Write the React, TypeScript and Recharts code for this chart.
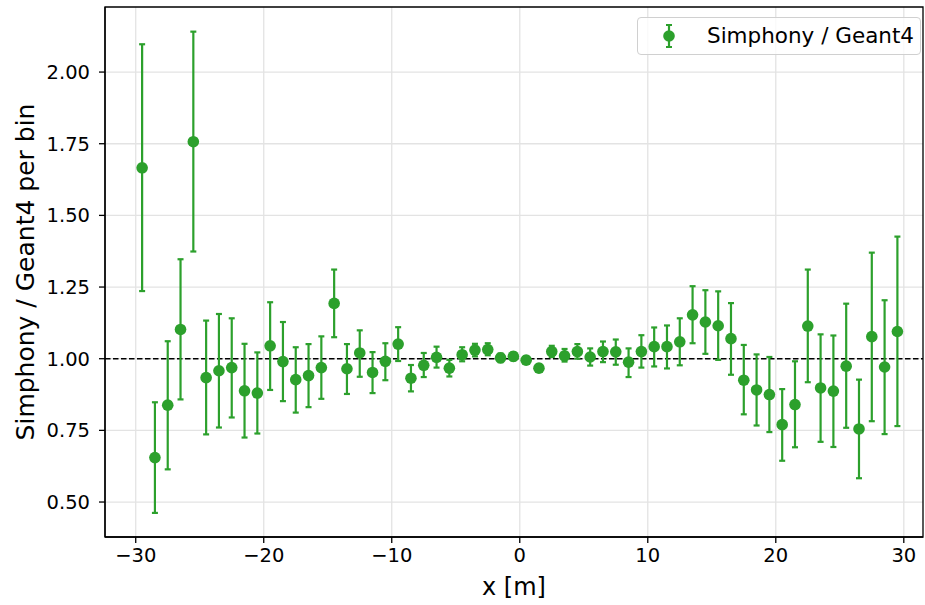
import React from 'react';
import {
  ScatterChart, Scatter, XAxis, YAxis, CartesianGrid, ErrorBar, ReferenceLine, ReferenceArea, Label,
} from 'recharts';

const binCenters = [
  -29.5, -28.5, -27.5, -26.5, -25.5, -24.5, -23.5, -22.5, -21.5, -20.5,
  -19.5, -18.5, -17.5, -16.5, -15.5, -14.5, -13.5, -12.5, -11.5, -10.5,
  -9.5, -8.5, -7.5, -6.5, -5.5, -4.5, -3.5, -2.5, -1.5, -0.5,
  0.5, 1.5, 2.5, 3.5, 4.5, 5.5, 6.5, 7.5, 8.5, 9.5,
  10.5, 11.5, 12.5, 13.5, 14.5, 15.5, 16.5, 17.5, 18.5, 19.5,
  20.5, 21.5, 22.5, 23.5, 24.5, 25.5, 26.5, 27.5, 28.5, 29.5,
];

const ratio = [
  1.666, 0.655, 0.838, 1.102, 1.757, 0.934, 0.958, 0.969, 0.888, 0.880,
  1.045, 0.990, 0.927, 0.941, 0.969, 1.193, 0.965, 1.020, 0.952, 0.991,
  1.051, 0.932, 0.977, 1.005, 0.967, 1.014, 1.030, 1.032, 1.003, 1.008,
  0.995, 0.967, 1.025, 1.010, 1.025, 1.006, 1.025, 1.024, 0.988, 1.025,
  1.042, 1.042, 1.059, 1.153, 1.128, 1.115, 1.070, 0.925, 0.891, 0.875,
  0.770, 0.840, 1.114, 0.898, 0.887, 0.974, 0.755, 1.077, 0.971, 1.095,
];

const upperBound = [
  2.097, 0.848, 1.061, 1.347, 2.141, 1.133, 1.156, 1.141, 1.052, 1.022,
  1.197, 1.128, 1.040, 1.051, 1.078, 1.311, 1.051, 1.099, 1.023, 1.054,
  1.110, 0.978, 1.020, 1.042, 0.996, 1.040, 1.052, 1.054, 1.018, 1.022,
  1.008, 0.980, 1.045, 1.034, 1.051, 1.036, 1.060, 1.067, 1.036, 1.082,
  1.109, 1.116, 1.141, 1.253, 1.239, 1.235, 1.194, 1.048, 1.015, 1.006,
  0.894, 0.991, 1.311, 1.085, 1.081, 1.192, 0.927, 1.370, 1.204, 1.426,
];

const lowerBound = [
  1.236, 0.462, 0.614, 0.858, 1.374, 0.736, 0.760, 0.795, 0.725, 0.739,
  0.891, 0.852, 0.812, 0.831, 0.860, 1.075, 0.877, 0.937, 0.880, 0.925,
  0.992, 0.886, 0.936, 0.969, 0.938, 0.991, 1.008, 1.012, 0.988, 0.994,
  0.982, 0.954, 1.006, 0.990, 1.000, 0.976, 0.988, 0.979, 0.936, 0.969,
  0.973, 0.966, 0.977, 1.054, 1.017, 0.996, 0.944, 0.806, 0.767, 0.744,
  0.644, 0.691, 0.918, 0.710, 0.692, 0.759, 0.583, 0.782, 0.737, 0.765,
];

const xTicks = [-30, -20, -10, 0, 10, 20, 30];
const yTicks = [0.5, 0.75, 1.0, 1.25, 1.5, 1.75, 2.0];
const xDomain: [number, number] = [-32.4, 31.5];
const yDomain: [number, number] = [0.378, 2.227];

const seriesName = 'Simphony / Geant4';
const xLabel = 'x [m]';
const yLabel = 'Simphony / Geant4 per bin';

const GREEN = '#2ca02c';
const FONT = '"DejaVu Sans", sans-serif';

const data = binCenters.map((x, i) => ({
  x,
  y: ratio[i],
  err: [ratio[i] - lowerBound[i], upperBound[i] - ratio[i]],
}));

const fmtX = (v: number) => (v < 0 ? '\u2212' + Math.abs(v) : String(v));
const fmtY = (v: number) => v.toFixed(2);

const Dot = (props: any) => (
  <circle cx={props.cx} cy={props.cy} r={5.8} fill={GREEN} />
);

export default function App() {
  return (
    <div style={{ position: 'absolute', left: 0, top: 0, width: 925, height: 605, background: '#fff' }}>
      <ScatterChart
        width={925}
        height={605}
        margin={{ top: 7, right: 2, bottom: 0, left: 0 }}
        style={{ fontFamily: FONT }}
      >
        <CartesianGrid stroke="#e3e3e3" strokeWidth={1.3} horizontalValues={yTicks} verticalValues={xTicks} />
        <XAxis
          type="number"
          dataKey="x"
          domain={xDomain}
          ticks={xTicks}
          allowDataOverflow
          height={68}
          tickFormatter={fmtX}
          tickSize={6}
          tickMargin={5}
          tick={{ fill: '#000', fontSize: 19.5, fontFamily: FONT }}
          stroke="#000"
          tickLine={{ stroke: '#000', strokeWidth: 1.3 }}
          axisLine={{ stroke: '#000', strokeWidth: 1.3 }}
        >
          <Label
            content={(p: any) => (
              <text
                x={p.viewBox.x + p.viewBox.width / 2}
                y={p.viewBox.y + 58}
                textAnchor="middle"
                fontSize={24}
                fontFamily={FONT}
                fill="#000"
              >
                {xLabel}
              </text>
            )}
          />
        </XAxis>
        <YAxis
          type="number"
          dataKey="y"
          domain={yDomain}
          ticks={yTicks}
          allowDataOverflow
          width={105}
          tickFormatter={fmtY}
          tickSize={6}
          tickMargin={9}
          tick={{ fill: '#000', fontSize: 19.5, fontFamily: FONT }}
          stroke="#000"
          tickLine={{ stroke: '#000', strokeWidth: 1.3 }}
          axisLine={{ stroke: '#000', strokeWidth: 1.3 }}
        >
          <Label
            content={(p: any) => {
              const cx = p.viewBox.x + 25;
              const cy = p.viewBox.y + p.viewBox.height / 2;
              return (
                <text
                  x={cx}
                  y={cy}
                  transform={`rotate(-90 ${cx} ${cy})`}
                  textAnchor="middle"
                  dominantBaseline="central"
                  fontSize={25}
                  fontFamily={FONT}
                  fill="#000"
                >
                  {yLabel}
                </text>
              );
            }}
          />
        </YAxis>
        <ReferenceArea
          x1={xDomain[0]}
          x2={xDomain[1]}
          y1={yDomain[0]}
          y2={yDomain[1]}
          fill="none"
          stroke="#000"
          strokeWidth={1.3}
          ifOverflow="visible"
        />
        <ReferenceLine y={1} stroke="#000" strokeWidth={1.5} strokeDasharray="5.5 2.5" />
        <Scatter data={data} fill={GREEN} shape={Dot} isAnimationActive={false}>
          <ErrorBar dataKey="err" direction="y" width={3} stroke={GREEN} strokeWidth={2.2} />
        </Scatter>
      </ScatterChart>
      <div
        style={{
          position: 'absolute',
          left: 637,
          top: 17,
          width: 284,
          height: 38,
          border: '1px solid #d0d0d0',
          borderRadius: 4,
          background: 'rgba(255,255,255,0.8)',
          boxSizing: 'border-box',
          fontFamily: FONT,
          fontSize: 21.5,
        }}
      >
        <svg width={40} height={36} style={{ position: 'absolute', left: 20, top: 0 }}>
          <line x1={11} y1={7} x2={11} y2={29} stroke={GREEN} strokeWidth={2.2} />
          <line x1={8} y1={7} x2={14} y2={7} stroke={GREEN} strokeWidth={2} />
          <line x1={8} y1={29} x2={14} y2={29} stroke={GREEN} strokeWidth={2} />
          <circle cx={11} cy={18} r={5.8} fill={GREEN} />
        </svg>
        <span style={{ position: 'absolute', left: 69, top: 5, lineHeight: '26px', whiteSpace: 'nowrap' }}>
          {seriesName}
        </span>
      </div>
    </div>
  );
}
